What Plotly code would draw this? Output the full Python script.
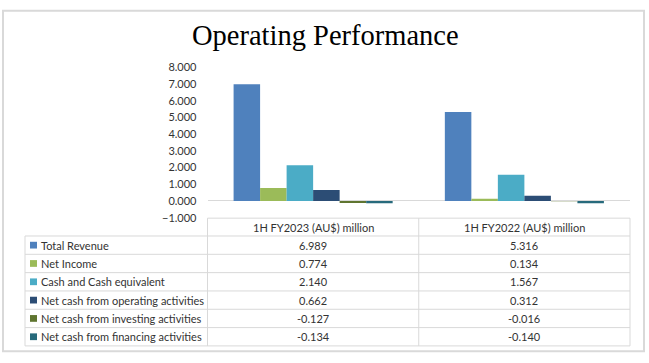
import plotly.graph_objects as go

# ---------------- data ----------------
categories = ["1H FY2023 (AU$) million", "1H FY2022 (AU$) million"]
series_names = [
    "Total Revenue",
    "Net Income",
    "Cash and Cash equivalent",
    "Net cash from operating activities",
    "Net cash from investing activities",
    "Net cash from financing activities",
]
total_revenue = [6.989, 5.316]
net_income = [0.774, 0.134]
cash_equivalent = [2.140, 1.567]
net_cash_operating = [0.662, 0.312]
net_cash_investing = [-0.127, -0.016]
net_cash_financing = [-0.134, -0.140]
y_ticks = [-1, 0, 1, 2, 3, 4, 5, 6, 7, 8]
title_text = "Operating Performance"

series_values = [total_revenue, net_income, cash_equivalent,
                 net_cash_operating, net_cash_investing, net_cash_financing]
colors = ["#4F81BD", "#9BBB59", "#4BACC6", "#2C4D75", "#5F7530", "#276A7C"]

# ---------------- geometry (pixels) ----------------
W, H = 649, 363
def px(x):
    return x / W
def py(y):
    return 1 - y / H

plot_left, plot_right = 207.5, 630.0
plot_top, plot_bottom = 62.5, 218.5
legend_left = 25.0
header_top, header_bottom = 219.0, 237.5
row_h = 19.0
grid_col = "#D9D9D9"
text_col = "#333333"
font_fam = "Lato, 'Open Sans', sans-serif"

fig = go.Figure()
for name, vals, col in zip(series_names, series_values, colors):
    fig.add_trace(go.Bar(x=list(range(len(categories))), y=vals, name=name,
                         marker=dict(color=col, line=dict(width=0)),
                         showlegend=False, hoverinfo="skip"))

shapes = []
annotations = []

# outer border
shapes.append(dict(type="rect", xref="paper", yref="paper",
                   x0=px(3), x1=px(644), y0=py(357), y1=py(4),
                   line=dict(color=grid_col, width=2)))

# table geometry
n_rows = len(series_names)
col_edges = [plot_left + i * (plot_right - plot_left) / len(categories)
             for i in range(len(categories) + 1)]
table_bottom = header_bottom + n_rows * row_h

# header top line
shapes.append(dict(type="line", xref="paper", yref="paper",
                   x0=px(plot_left), x1=px(plot_right), y0=py(header_top), y1=py(header_top),
                   line=dict(color=grid_col, width=1)))
# row lines
for i in range(n_rows + 1):
    yy = header_bottom + i * row_h
    shapes.append(dict(type="line", xref="paper", yref="paper",
                       x0=px(legend_left), x1=px(plot_right), y0=py(yy), y1=py(yy),
                       line=dict(color=grid_col, width=1)))
# vertical lines
shapes.append(dict(type="line", xref="paper", yref="paper",
                   x0=px(legend_left), x1=px(legend_left), y0=py(header_bottom), y1=py(table_bottom),
                   line=dict(color=grid_col, width=1)))
for xe in col_edges:
    shapes.append(dict(type="line", xref="paper", yref="paper",
                       x0=px(xe), x1=px(xe), y0=py(header_top), y1=py(table_bottom),
                       line=dict(color=grid_col, width=1)))

# header texts
for ci, cat in enumerate(categories):
    cx = (col_edges[ci] + col_edges[ci + 1]) / 2
    annotations.append(dict(xref="paper", yref="paper", x=px(cx),
                            y=py((header_top + header_bottom) / 2),
                            text=cat, showarrow=False, xanchor="center", yanchor="middle",
                            font=dict(family=font_fam, size=11, color=text_col)))

# rows
for ri, (name, vals, col) in enumerate(zip(series_names, series_values, colors)):
    yc = header_bottom + (ri + 0.5) * row_h
    shapes.append(dict(type="rect", xref="paper", yref="paper",
                       x0=px(30), x1=px(37), y0=py(yc + 3.5), y1=py(yc - 3.5),
                       fillcolor=col, line=dict(width=0)))
    annotations.append(dict(xref="paper", yref="paper", x=px(39), y=py(yc),
                            text=name, showarrow=False, xanchor="left", yanchor="middle",
                            font=dict(family=font_fam, size=11, color=text_col)))
    for ci, v in enumerate(vals):
        cx = (col_edges[ci] + col_edges[ci + 1]) / 2
        annotations.append(dict(xref="paper", yref="paper", x=px(cx), y=py(yc),
                                text=f"{v:.3f}", showarrow=False, xanchor="center",
                                yanchor="middle",
                                font=dict(family=font_fam, size=11, color=text_col)))

# title
annotations.append(dict(xref="paper", yref="paper", x=px(325), y=py(29.5),
                        text=title_text, showarrow=False, xanchor="center", yanchor="middle",
                        font=dict(family="'Liberation Serif', 'DejaVu Serif', serif",
                                  size=28.5, color="#000000")))

fig.update_layout(
    width=W, height=H, autosize=False,
    margin=dict(l=0, r=0, t=0, b=0, pad=0),
    paper_bgcolor="white", plot_bgcolor="white",
    barmode="group", bargap=0.247, bargroupgap=0,
    hovermode=False,
    xaxis=dict(domain=[px(plot_left), px(plot_right)], range=[-0.5, len(categories) - 0.5],
               showticklabels=False, showgrid=False, zeroline=False, showline=False,
               fixedrange=True),
    yaxis=dict(domain=[py(plot_bottom), py(plot_top)], range=[-1, 8],
               tickvals=y_ticks, tickformat=".3f", showgrid=False,
               zeroline=True, zerolinecolor=grid_col, zerolinewidth=1,
               showline=False, ticks="", ticklabelstandoff=10, fixedrange=True,
               tickfont=dict(family=font_fam, size=11, color=text_col)),
    shapes=shapes, annotations=annotations,
)

fig.write_html("out.html", config={"displayModeBar": False, "staticPlot": True},
               post_script="document.body.style.margin='0';document.body.style.overflow='hidden';")
